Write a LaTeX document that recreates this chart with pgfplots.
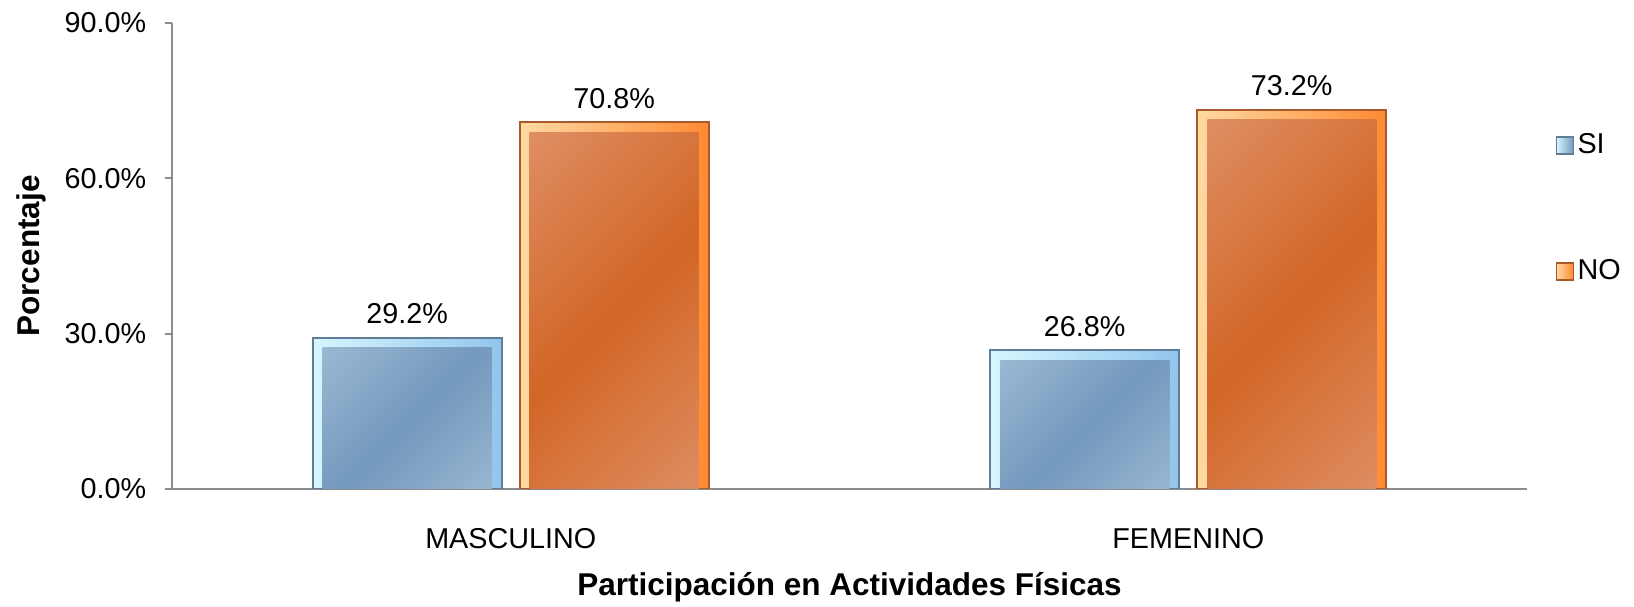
\documentclass[border=0pt]{standalone}
\usepackage{fontspec}
\setmainfont{Liberation Sans}
\usepackage{pgfplots}
\usepackage{pgfplotstable}
\pgfplotsset{compat=1.18}

\definecolor{axisgray}{HTML}{8C8C8C}
% SI (blue)
\definecolor{siLight}{HTML}{ABC4DB}
\definecolor{siDark}{HTML}{7399BD}
\definecolor{siBorder}{HTML}{5F7C98}
\definecolor{siBL}{HTML}{D6F6FF}
\definecolor{siBR}{HTML}{92C5EC}
% NO (orange)
\definecolor{noLight}{HTML}{E49E7C}
\definecolor{noDark}{HTML}{D26626}
\definecolor{noBorder}{HTML}{A85A2C}
\definecolor{noBL}{HTML}{FFD9A3}
\definecolor{noBR}{HTML}{FF8A32}

\pgfdeclarehorizontalshading{sishade}{100bp}{color(0bp)=(siLight); color(50bp)=(siDark); color(100bp)=(siLight)}
\pgfdeclarehorizontalshading{noshade}{100bp}{color(0bp)=(noLight); color(50bp)=(noDark); color(100bp)=(noLight)}

\newcommand{\lblfont}{\fontsize{11.5}{13.8}\selectfont}
\newcommand{\titlefont}{\fontsize{12.6}{15}\selectfont\bfseries}

\pgfplotstableread{
x si no
0 29.2 70.8
1 26.8 73.2
}\datatab

\pgfplotsset{
  onlyfirst/.style={skip coords between index={1}{2}},
  onlysecond/.style={skip coords between index={0}{1}},
  valuelabel/.style={
    nodes near coords={\pgfmathprintnumber[fixed,fixed zerofill,precision=1]{\pgfplotspointmeta}\%},
    nodes near coords style={font=\lblfont, text=black, yshift=1.8pt}},
  siframe/.style={bar width=75.6pt, bar shift=-41.4pt, draw=siBorder, line width=0.8pt,
    left color=siBL, right color=siBR, valuelabel},
  noframe/.style={bar width=75.6pt, bar shift=41.4pt, draw=noBorder, line width=0.8pt,
    left color=noBL, right color=noBR, valuelabel},
  siface/.style={forget plot, bar width=67.6pt, bar shift=-41.4pt, draw=none,
    shading=sishade, shading angle=-45, yshift=-4pt},
  noface/.style={forget plot, bar width=67.6pt, bar shift=41.4pt, draw=none,
    shading=noshade, shading angle=-45, yshift=-4pt},
}

\begin{document}
\begin{tikzpicture}[font=\lblfont]
\begin{axis}[
    at={(0,0)}, anchor=south west,
    scale only axis,
    width=542pt, height=186.4pt,
    xmin=-0.5, xmax=1.5,
    ymin=0, ymax=90,
    xtick={0,1},
    xticklabels={MASCULINO,FEMENINO},
    ytick={0,30,60,90},
    axis x line*=bottom,
    axis y line*=left,
    axis line style={draw=axisgray, line width=0.9pt},
    x tick style={draw=none},
    y tick style={draw=axisgray, line width=0.9pt},
    tick align=outside,
    major tick length=2.8pt,
    /pgf/number format/assume math mode=true,
    yticklabel={\pgfmathprintnumber[fixed,fixed zerofill,precision=1]{\tick}\%},
    tick label style={font=\lblfont},
    yticklabel style={xshift=-4pt},
    xticklabel style={anchor=center, yshift=-17.2pt},
    xlabel={Participación en Actividades Físicas},
    ylabel={Porcentaje},
    every axis x label/.style={at={(axis description cs:0.5,-0.210)}, anchor=center, font=\titlefont},
    every axis y label/.style={at={(axis description cs:-0.1041,0.5)}, rotate=90, anchor=center, font=\titlefont},
    ybar,
    legend style={at={(axis description cs:1.0207,0.602)}, anchor=west,
        draw=none, fill=none, inner sep=0pt, row sep=38pt,
        nodes={inner sep=1.4pt}, font=\lblfont},
    legend cell align=left,
]
% outer bars: bevel frame, border and value labels (one bar per plot so each gets its own shading)
\addplot[siframe, onlyfirst,
    legend image code/.code={\draw[draw=siBorder, line width=0.6pt, left color=siBL, right color=siDark] (0pt,-3.4pt) rectangle (6.8pt,3.4pt);}]
    table[x=x, y=si] {\datatab};
\addplot[noframe, onlyfirst,
    legend image code/.code={\draw[draw=noBorder, line width=0.6pt, left color=noBL, right color=noBR] (0pt,-3.4pt) rectangle (6.8pt,3.4pt);}]
    table[x=x, y=no] {\datatab};
\addplot[siframe, onlysecond, forget plot] table[x=x, y=si] {\datatab};
\addplot[noframe, onlysecond, forget plot] table[x=x, y=no] {\datatab};
% inner faces of the bars
\addplot[siface, onlyfirst]  table[x=x, y=si] {\datatab};
\addplot[siface, onlysecond] table[x=x, y=si] {\datatab};
\addplot[noface, onlyfirst]  table[x=x, y=no] {\datatab};
\addplot[noface, onlysecond] table[x=x, y=no] {\datatab};
\legend{SI,NO}
\end{axis}
\pgfresetboundingbox
\useasboundingbox (-68.8pt,-47.2pt) rectangle (584.8pt,195.6pt);
\end{tikzpicture}
\end{document}
